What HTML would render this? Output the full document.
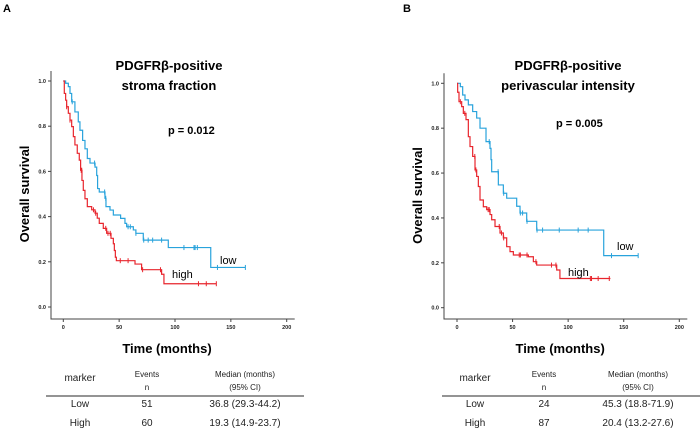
<!DOCTYPE html>
<html><head><meta charset="utf-8"><style>
body{margin:0;background:#fff;width:700px;height:433px;overflow:hidden}
svg{display:block}
text{font-family:"Liberation Sans",Arial,sans-serif}
.serif{font-family:"Liberation Serif","DejaVu Serif",serif}
</style></head><body>
<svg id="svg" width="700" height="433" viewBox="0 0 700 433">
<text x="3" y="12" font-size="11" font-weight="bold">A</text>
<text x="403" y="12" font-size="11" font-weight="bold">B</text>
</svg>
<script>
const xTicks=[0,50,100,150,200];
const yTicks=[0,0.2,0.4,0.6,0.8,1.0];
// Panel A
const aLowT=[0,2.1,4.5,6,7.5,10.4,13.4,14.9,17.3,19.4,21.5,23.9,28.4,29.9,30.7,32.2,37.3,38.2,41.8,44.8,51.3,55.2,56.7,62.7,65,71.6,94,132,163];
const aLowS=[1,0.99,0.975,0.945,0.908,0.863,0.819,0.782,0.737,0.7,0.657,0.637,0.619,0.582,0.524,0.509,0.481,0.444,0.429,0.407,0.392,0.37,0.355,0.341,0.326,0.296,0.263,0.175,0.175];
const aLowC=[8,28,37,38,58,60,65,72,76,80,88,108,117,118,120,138,163];
const aHighT=[0,0.9,2.1,3,4.5,6,7.5,9,10.4,12.5,14.3,15.5,16.7,17.9,19.4,21.5,25.4,28.4,30.4,32.2,35.8,38.8,42.7,44.8,45.7,46.6,47.5,64.2,70.1,88,90.1,137];
const aHighS=[1,0.945,0.915,0.886,0.857,0.827,0.798,0.754,0.717,0.68,0.65,0.605,0.56,0.516,0.479,0.444,0.43,0.415,0.393,0.37,0.348,0.326,0.304,0.28,0.25,0.22,0.205,0.19,0.165,0.145,0.103,0.103];
const aHighC=[3,6,16,16.5,27,29,38,40,42,51,58,71,87,121,128,137];
// Panel B
const bLowT=[0,3,5.1,7.2,10.2,14.1,17.7,20.7,26.1,29.7,30.6,31.2,37.2,41.7,44.7,53.7,56.7,62.7,71.7,132,163];
const bLowS=[1,0.985,0.948,0.926,0.904,0.874,0.845,0.8,0.74,0.71,0.66,0.606,0.547,0.51,0.488,0.452,0.422,0.385,0.346,0.232,0.232];
const bLowC=[29,37,42,57,59,63,72,77,92,109,118,139,163];
const bHighT=[0,0.6,1.8,4.2,5.7,8.1,10.2,11.7,14.1,16.2,17.7,19.2,20.7,23.7,26.7,29.7,31.2,34.2,38.7,41.7,44.7,47.7,50.7,64.2,68.7,71.7,89.7,92.6,138];
const bHighS=[1,0.96,0.918,0.896,0.866,0.838,0.762,0.718,0.674,0.614,0.585,0.54,0.48,0.45,0.437,0.415,0.392,0.362,0.333,0.311,0.272,0.25,0.235,0.227,0.205,0.19,0.168,0.13,0.13];
const bHighC=[3,7,16,17,28,29,38,40,42,56,57,63,71,85,89,120,121,127,137];
const aTitle=["PDGFRβ-positive","stroma fraction"], bTitle=["PDGFRβ-positive","perivascular intensity"];
const aP="p = 0.012", bP="p = 0.005";
const aRows=[["Low","51","36.8 (29.3-44.2)"],["High","60","19.3 (14.9-23.7)"]];
const bRows=[["Low","24","45.3 (18.8-71.9)"],["High","87","20.4 (13.2-27.6)"]];

const svg=document.getElementById('svg');const NS='http://www.w3.org/2000/svg';
function mk(tag,attrs,parent,txt){const e=document.createElementNS(NS,tag);for(const k in attrs)e.setAttribute(k,attrs[k]);if(txt!==undefined)e.textContent=txt;(parent||svg).appendChild(e);return e;}

function panel(p){
 const g=mk('g',{});
 
 
 const X=t=>p.x0+t*(p.x200-p.x0)/200, Y=s=>p.y0+s*(p.y1-p.y0);
 const ax=mk('path',{d:`M${p.axL},${Y(1)-10}V${p.axB}H${X(200)+8}`,stroke:'#444',fill:'none','stroke-width':1},g);
 
 yTicks.forEach(v=>{const l=mk('line',{x1:p.axL-3,x2:p.axL,y1:Y(v),y2:Y(v),stroke:'#444'},g);
  
  const t=mk('text',{x:p.axL-5,y:Y(v)+2,'font-size':5.5,'text-anchor':'end',fill:'#222','font-weight':'bold'},g,v.toFixed(1));
  });
 xTicks.forEach(v=>{const l=mk('line',{x1:X(v),x2:X(v),y1:p.axB,y2:p.axB+3,stroke:'#444'},g);
  
  const t=mk('text',{x:X(v),y:p.axB+10,'font-size':5.5,'text-anchor':'middle',fill:'#222','font-weight':'bold'},g,v);
  });
 const series=[[p.lowT,p.lowS,p.lowC,'#29a3dc','low-curve'],[p.highT,p.highS,p.highC,'#e8252d','high-curve']];
 series.forEach(([T,S,C,col,nm])=>{
  let d=`M${X(T[0])},${Y(S[0])}`;
  for(let i=1;i<T.length;i++){d+=`H${X(T[i])}V${Y(S[i])}`;}
  const path=mk('path',{d,stroke:col,fill:'none','stroke-width':1.2},g);
  
  C.forEach(c=>{let s=S[0];for(let i=0;i<T.length;i++){if(T[i]<=c)s=S[i];}
   const m=mk('path',{d:`M${X(c)},${Y(s)-2.5}v5`,stroke:col,'stroke-width':1},g);
   });
 });
 const cx=p.titleX;
 p.title.forEach((s,i)=>{const t=mk('text',{x:cx,y:70+i*20,'font-size':13,'font-weight':'bold','text-anchor':'middle'},g,s);
  });
 let t=mk('text',{x:p.pX,y:p.pY,'font-size':11,'font-weight':'bold'},g,p.pv);
 
 t=mk('text',{x:0,y:0,'font-size':13,'font-weight':'bold','text-anchor':'middle',transform:`translate(${p.axL-22},${(Y(0)+Y(1))/2}) rotate(-90)`},g,'Overall survival');
 
 t=mk('text',{x:(X(0)+X(200))/2-8,y:353,'font-size':13,'font-weight':'bold','text-anchor':'middle'},g,'Time (months)');
 
 t=mk('text',{x:p.lowLX,y:p.lowLY,'font-size':11},g,'low');
 
 t=mk('text',{x:p.highLX,y:p.highLY,'font-size':11},g,'high');
 
 // table
 const tb=mk('g',{class:'serif'},g);
 
 t=mk('text',{x:p.c1,y:381,'font-size':10,'text-anchor':'middle',style:'font-family:"Liberation Sans",sans-serif',fill:'#222'},tb,'marker');
 
 t=mk('text',{x:p.c2,y:377,'font-size':8,'text-anchor':'middle',fill:'#222'},tb,'Events');
 
 t=mk('text',{x:p.c2,y:390,'font-size':8,'text-anchor':'middle',fill:'#222'},tb,'n');
 
 t=mk('text',{x:p.c3,y:377,'font-size':8,'text-anchor':'middle',fill:'#222'},tb,'Median (months)');
 
 t=mk('text',{x:p.c3,y:390,'font-size':8,'text-anchor':'middle',fill:'#222'},tb,'(95% CI)');
 
 const ln=mk('line',{x1:p.tl,x2:p.tr,y1:396,y2:396,stroke:'#555','stroke-width':1.2},tb);
 
 p.rows.forEach((r,i)=>{[p.c1,p.c2,p.c3].forEach((c,j)=>{
  const e=mk('text',{x:c,y:407+i*19,'font-size':10,'text-anchor':'middle',fill:'#222'},tb,r[j]);
  });});
}
panel({name:'chart-a',x0:63.3,x200:286.7,y1:81,y0:307,axL:51,axB:319,lowT:aLowT,lowS:aLowS,lowC:aLowC,highT:aHighT,highS:aHighS,highC:aHighC,
 title:aTitle,titleX:169,pv:aP,pX:168,pY:134,lowLX:220,lowLY:264,highLX:172,highLY:278,rows:aRows,c1:80,c2:147,c3:245,tl:46,tr:304});
panel({name:'chart-b',x0:457,x200:679.3,y1:83.3,y0:307.7,axL:444,axB:319,lowT:bLowT,lowS:bLowS,lowC:bLowC,highT:bHighT,highS:bHighS,highC:bHighC,
 title:bTitle,titleX:568,pv:bP,pX:556,pY:127,lowLX:617,lowLY:250,highLX:568,highLY:276,rows:bRows,c1:475,c2:544,c3:638,tl:442,tr:700});
</script>
</body></html>
